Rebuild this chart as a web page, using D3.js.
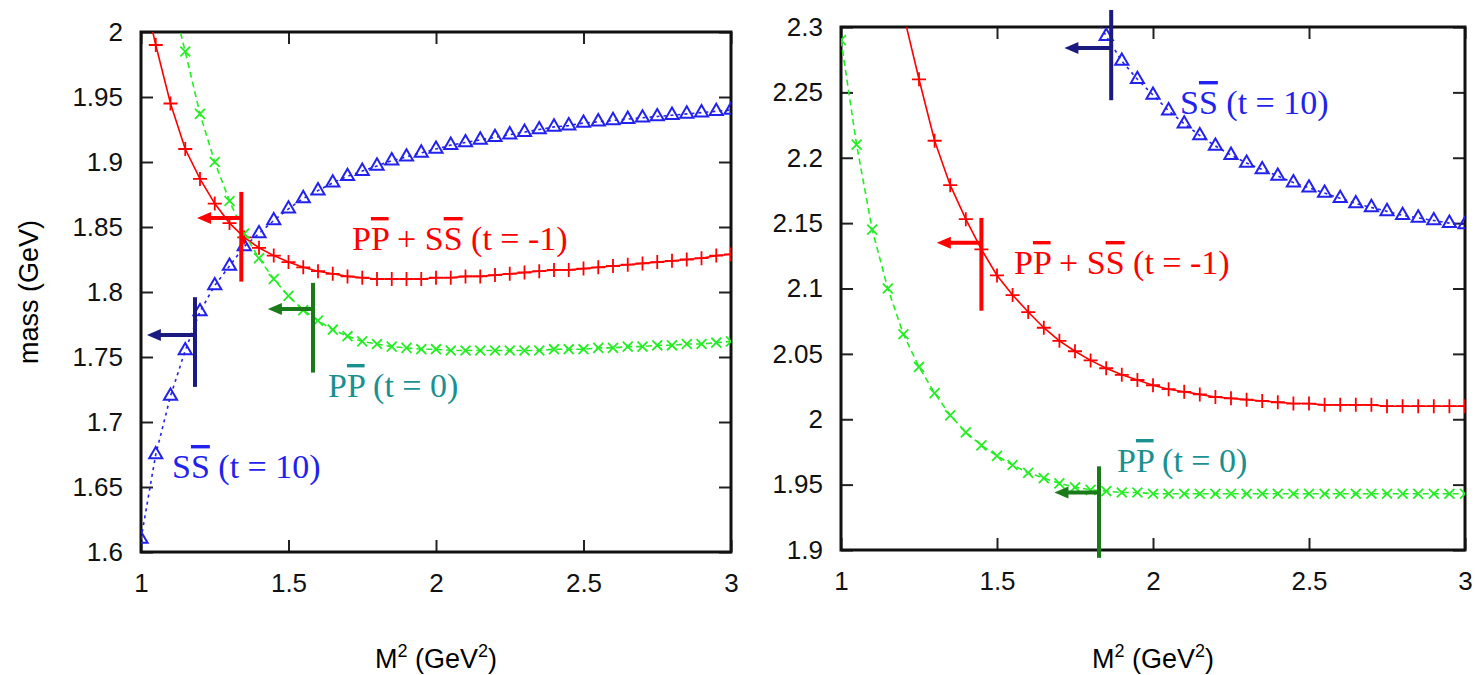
<!DOCTYPE html>
<html><head><meta charset="utf-8">
<script src="https://cdn.jsdelivr.net/npm/d3@7"></script>
<style>body{margin:0;background:#fff}svg{display:block}
.sans{font-family:"Liberation Sans",Arimo,Arial,sans-serif}
.serif{font-family:"Liberation Serif","DejaVu Serif","Times New Roman",serif}
</style>
</head><body><svg id="c" width="1479" height="675"></svg>
<script>
const xs = [1.00,1.05,1.10,1.15,1.20,1.25,1.30,1.35,1.40,1.45,1.50,1.55,1.60,1.65,1.70,1.75,1.80,1.85,1.90,1.95,2.00,2.05,2.10,2.15,2.20,2.25,2.30,2.35,2.40,2.45,2.50,2.55,2.60,2.65,2.70,2.75,2.80,2.85,2.90,2.95,3.00];
// left panel
const leftSS = [1.61,1.675,1.72,1.755,1.785,1.805,1.82,1.835,1.845,1.855,1.864,1.872,1.878,1.884,1.889,1.893,1.897,1.901,1.904,1.907,1.91,1.913,1.915,1.917,1.919,1.921,1.923,1.925,1.927,1.928,1.93,1.931,1.932,1.933,1.934,1.935,1.936,1.937,1.938,1.939,1.94];
const leftMix = [2.04,1.99,1.945,1.91,1.887,1.868,1.853,1.842,1.834,1.828,1.823,1.819,1.816,1.814,1.812,1.811,1.81,1.81,1.81,1.81,1.811,1.811,1.812,1.812,1.813,1.814,1.815,1.816,1.817,1.817,1.818,1.819,1.82,1.821,1.822,1.823,1.824,1.825,1.826,1.828,1.829];
const leftPP = [2.15,2.09,2.03,1.985,1.937,1.9,1.87,1.845,1.826,1.81,1.797,1.786,1.778,1.771,1.766,1.762,1.76,1.758,1.757,1.756,1.756,1.755,1.755,1.755,1.755,1.755,1.755,1.755,1.756,1.756,1.756,1.757,1.757,1.758,1.758,1.759,1.759,1.76,1.76,1.761,1.762];
// right panel
const rightSS = [null,null,null,null,null,null,null,null,null,null,null,null,null,null,null,null,2.315,2.293,2.274,2.26,2.248,2.236,2.226,2.217,2.209,2.202,2.196,2.191,2.186,2.181,2.177,2.173,2.169,2.165,2.162,2.159,2.156,2.154,2.152,2.15,2.149];
const rightMix = [null,null,null,null,2.31,2.26,2.213,2.179,2.153,2.13,2.11,2.095,2.082,2.07,2.06,2.052,2.045,2.039,2.034,2.03,2.026,2.023,2.021,2.019,2.017,2.016,2.015,2.014,2.013,2.012,2.012,2.011,2.011,2.011,2.011,2.01,2.01,2.01,2.01,2.01,2.01];
const rightPP = [2.29,2.21,2.145,2.1,2.065,2.04,2.02,2.003,1.99,1.98,1.972,1.965,1.959,1.955,1.951,1.948,1.946,1.945,1.944,1.944,1.943,1.943,1.943,1.943,1.943,1.943,1.943,1.943,1.943,1.943,1.943,1.943,1.943,1.943,1.943,1.943,1.943,1.943,1.943,1.943,1.943];
const xTicks = [1,1.5,2,2.5,3];
const yTicksLeft = [1.6,1.65,1.7,1.75,1.8,1.85,1.9,1.95,2];
const yTicksRight = [1.9,1.95,2,2.05,2.1,2.15,2.2,2.25,2.3];
// cut markers: [x, yTop, yBottom, yArrow, xArrowEnd]
const leftCuts = {mix:[1.34,1.877,1.808,1.857,1.19], pp:[1.583,1.807,1.738,1.787,1.43], ss:[1.183,1.796,1.727,1.767,1.02]};
const rightCuts = {mix:[1.45,2.154,2.083,2.135,1.307], pp:[1.827,1.964,1.894,1.944,1.684], ss:[1.866,2.313,2.244,2.284,1.716]};

const svg = d3.select("#c");
const C = {red:"#ff0000", green:"#22ee22", blue:"#2222ee", navy:"#1a1a80", dgreen:"#1a7a1a", teal:"#1a9090"};
const defs = svg.append("defs");
const plus = {draw(ctx){const r=7;ctx.moveTo(-r,0);ctx.lineTo(r,0);ctx.moveTo(0,-r);ctx.lineTo(0,r);}};

function panel(id, px, py, yDom, yTicks, S, cuts, labels, yLabel){
  const x = d3.scaleLinear().domain([1,3]).range(px);
  const y = d3.scaleLinear().domain(yDom).range(py);
  const g = svg.append("g");
  defs.append("clipPath").attr("id",id).append("rect").attr("x",px[0]).attr("y",py[1]).attr("width",px[1]-px[0]).attr("height",py[0]-py[1]);
  const mk = (sel)=>sel.attr("font-family",null).call(s=>s.selectAll("text").attr("class","sans").attr("font-size",26).attr("fill","#111")).call(s=>s.select(".domain").remove()).call(s=>s.selectAll("line").attr("stroke","#222").attr("stroke-width",2));
  g.append("g").attr("transform",`translate(0,${py[0]})`).call(d3.axisBottom(x).tickValues(xTicks).tickFormat(d3.format("")).tickSizeInner(-12).tickSizeOuter(0).tickPadding(22)).call(mk);
  g.append("g").attr("transform",`translate(0,${py[1]})`).call(d3.axisTop(x).tickValues(xTicks).tickFormat("").tickSizeInner(-12).tickSizeOuter(0)).call(mk);
  g.append("g").attr("transform",`translate(${px[0]},0)`).call(d3.axisLeft(y).tickValues(yTicks).tickFormat(d3.format("")).tickSizeInner(-12).tickSizeOuter(0).tickPadding(18)).call(mk);
  g.append("g").attr("transform",`translate(${px[1]},0)`).call(d3.axisRight(y).tickValues(yTicks).tickFormat("").tickSizeInner(-12).tickSizeOuter(0)).call(mk);
  g.append("rect").attr("x",px[0]).attr("y",py[1]).attr("width",px[1]-px[0]).attr("height",py[0]-py[1]).attr("fill","none").attr("stroke","#111").attr("stroke-width",3);
  g.append("text").attr("class","sans").attr("x",(px[0]+px[1])/2).attr("y",668).attr("text-anchor","middle").attr("font-size",27)
    .html('M<tspan dy="-11" font-size="18">2</tspan><tspan dy="11"> (GeV</tspan><tspan dy="-11" font-size="18">2</tspan><tspan dy="11">)</tspan>');
  if(yLabel) g.append("text").attr("class","sans").attr("transform",`translate(38,${(py[0]+py[1])/2}) rotate(-90)`).attr("text-anchor","middle").attr("font-size",27).text(yLabel);
  const pg = g.append("g").attr("clip-path",`url(#${id})`);
  S.forEach(s=>{
    const pts = xs.map((v,i)=>[v,s.vals[i]]).filter(d=>d[1]!=null);
    pg.append("path").datum(pts).attr("fill","none").attr("stroke",s.color).attr("stroke-width",1.6).attr("stroke-dasharray",s.dash)
      .attr("d",d3.line().x(d=>x(d[0])).y(d=>y(d[1])));
    const sym = d3.symbol().type(s.sym).size(s.size);
    pg.selectAll(null).data(pts.filter(d=>d[1]<=yDom[1]+0.003)).join("path")
      .attr("transform",d=>`translate(${x(d[0])},${y(d[1])})${s.rot?" rotate(45)":""}`)
      .attr("d",sym).attr("fill","none").attr("stroke",s.color).attr("stroke-width",s.sw);
  });
  Object.entries(cuts).forEach(([k,c])=>{
    const col = k==="mix"?C.red:k==="pp"?C.dgreen:C.navy;
    g.append("line").attr("x1",x(c[0])).attr("x2",x(c[0])).attr("y1",y(c[1])).attr("y2",y(c[2])).attr("stroke",col).attr("stroke-width",4);
    g.append("line").attr("x1",x(c[0])).attr("x2",x(c[4])+10).attr("y1",y(c[3])).attr("y2",y(c[3])).attr("stroke",col).attr("stroke-width",4);
    const ax=x(c[4]), ay=y(c[3]);
    g.append("path").attr("d",`M${ax},${ay} L${ax+14},${ay-6} L${ax+14},${ay+6} Z`).attr("fill",col);
  });
  labels.forEach(l=>{
    g.append("text").attr("class","serif").attr("x",l.x).attr("y",l.y).attr("fill",l.color).attr("font-size",34).html(l.html);
  });
}
const ov = t=>`<tspan style="text-decoration:overline">${t}</tspan>`;
const labMix = `P${ov("P")} + S${ov("S")} (t = -1)`;
const labPP = `P${ov("P")} (t = 0)`;
const labSS = `S${ov("S")} (t = 10)`;
function mkSeries(a,b,c){
  return [
    {vals:a,color:C.blue,sym:d3.symbolTriangle,size:75,sw:2,dash:"3,4"},
    {vals:b,color:C.red,sym:plus,size:1,sw:1.8,dash:null},
    {vals:c,color:C.green,sym:plus,size:1,sw:1.8,dash:"6,4",rot:true}
  ];
}
panel("cl",[141,731],[552,32],[1.6,2.0],yTicksLeft,mkSeries(leftSS,leftMix,leftPP),leftCuts,
  [{x:352,y:250,color:C.red,html:labMix},{x:328,y:397,color:C.teal,html:labPP},{x:172,y:478,color:C.blue,html:labSS}],"mass (GeV)");
panel("cr",[841,1465],[550,27],[1.9,2.3],yTicksRight,mkSeries(rightSS,rightMix,rightPP),rightCuts,
  [{x:1014,y:274,color:C.red,html:labMix},{x:1117,y:472,color:C.teal,html:labPP},{x:1180,y:114,color:C.blue,html:labSS}],null);
</script></body></html>
